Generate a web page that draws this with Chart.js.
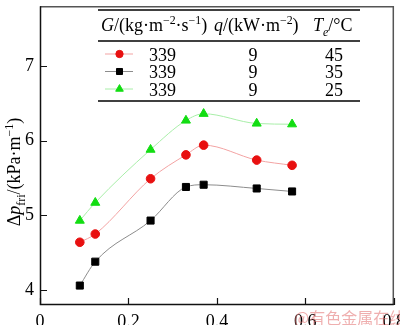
<!DOCTYPE html>
<html>
<head>
<meta charset="utf-8">
<script src="https://cdn.jsdelivr.net/npm/chart.js@4"></script>
<style>
html,body{margin:0;padding:0;background:#fff;}
</style>
</head>
<body>
<canvas id="c" width="400" height="325"></canvas>
<script>
// ---- data ----
const xValues = [0.09, 0.125, 0.25, 0.33, 0.37, 0.49, 0.57];
const dp45 = [4.64, 4.75, 5.49, 5.81, 5.94, 5.74, 5.67];
const dp35 = [4.06, 4.38, 4.93, 5.38, 5.41, 5.36, 5.32];
const dp25 = [4.93, 5.17, 5.88, 6.27, 6.36, 6.23, 6.22];
const legendG = ['339', '339', '339'];
const legendQ = ['9', '9', '9'];
const legendTe = ['45', '35', '25'];
const xTickValues = [0, 0.2, 0.4, 0.6, 0.8];
const xTickLabels = ['0', '0.2', '0.4', '0.6', '0.8'];
const yTickValues = [4, 5, 6, 7];
const yTickLabels = ['4', '5', '6', '7'];

const SERIF = 'Liberation Serif';

function pts(ys) { return xValues.map((x, i) => ({x: x, y: ys[i]})); }

const datasets = [
  {label: '45', data: pts(dp45), borderColor: '#f3a3a3', backgroundColor: '#e81010',
   pointBorderColor: '#e81010', pointStyle: 'circle', pointRadius: 4.3, borderWidth: 1},
  {label: '35', data: pts(dp35), borderColor: '#8c8c8c', backgroundColor: '#000',
   pointBorderColor: '#000', pointStyle: 'rect', pointRadius: 5, borderWidth: 1},
  {label: '25', data: pts(dp25), borderColor: '#a8eea8', backgroundColor: '#12dd12',
   pointBorderColor: '#12dd12', pointStyle: 'triangle', pointRadius: 5.2, borderWidth: 1}
];
datasets.forEach(d => { d.cubicInterpolationMode = 'monotone'; d.fill = false; d.pointBorderWidth = 1; });

function richText(ctx, segs, x, y, size, align) {
  const parts = segs.map(s => {
    const sz = (s.sub || s.sup) ? size * 0.66 : size;
    const font = (s.it ? 'italic ' : '') + sz + 'px "' + SERIF + '", serif';
    ctx.font = font;
    return {t: s.t, font: font, w: ctx.measureText(s.t).width,
      dy: s.sub ? size * 0.25 : (s.sup ? -size * 0.4 : 0)};
  });
  const total = parts.reduce((a, p) => a + p.w, 0);
  let cx = x;
  if (align === 'center') cx = x - total / 2;
  ctx.textBaseline = 'alphabetic';
  ctx.textAlign = 'left';
  parts.forEach(p => { ctx.font = p.font; ctx.fillText(p.t, cx, y + p.dy); cx += p.w; });
  return total;
}

const decor = {
  id: 'decor',
  afterDatasetsDraw(chart) {
    const ctx = chart.ctx, a = chart.chartArea;
    const xs = chart.scales.x, ys = chart.scales.y;
    ctx.save();
    // frame
    ctx.strokeStyle = '#555'; ctx.lineWidth = 1.5;
    ctx.beginPath();
    ctx.moveTo(a.left, a.top + 0.5); ctx.lineTo(a.right - 0.5, a.top + 0.5); ctx.lineTo(a.right - 0.5, a.bottom);
    ctx.stroke();
    ctx.strokeStyle = '#111'; ctx.lineWidth = 1.5;
    ctx.beginPath();
    ctx.moveTo(a.left + 0.5, a.top); ctx.lineTo(a.left + 0.5, a.bottom - 0.5); ctx.lineTo(a.right, a.bottom - 0.5);
    ctx.stroke();
    // inward ticks
    ctx.lineWidth = 1.2; ctx.strokeStyle = '#111';
    ctx.beginPath();
    xs.ticks.forEach(t => { const px = Math.round(xs.getPixelForValue(t.value)) + 0.5; ctx.moveTo(px, a.bottom); ctx.lineTo(px, a.bottom - 7); });
    ys.ticks.forEach(t => { const py = Math.round(ys.getPixelForValue(t.value)) + 0.5; ctx.moveTo(a.left, py); ctx.lineTo(a.left + 7, py); });
    ctx.stroke();

    // legend table
    ctx.fillStyle = '#000';
    ctx.strokeStyle = '#000'; ctx.lineWidth = 1.6;
    const L = 98, R = 360;
    [10, 41, 101].forEach(yy => { ctx.beginPath(); ctx.moveTo(L, yy); ctx.lineTo(R, yy); ctx.stroke(); });
    const fs = 18;
    richText(ctx, [{t: 'G', it: true}, {t: '/(kg·m'}, {t: '−2', sup: true}, {t: '·s'}, {t: '−1', sup: true}, {t: ')'}], 101, 31, fs);
    richText(ctx, [{t: 'q', it: true}, {t: '/(kW·m'}, {t: '−2', sup: true}, {t: ')'}], 214, 31, fs);
    richText(ctx, [{t: 'T', it: true}, {t: 'e', it: true, sub: true}, {t: '/°C'}], 313, 31, fs);
    const rowsY = [54, 71.5, 89];
    chart.data.datasets.forEach((d, i) => {
      const yy = rowsY[i];
      ctx.strokeStyle = d.borderColor; ctx.lineWidth = 1;
      ctx.beginPath(); ctx.moveTo(105, yy); ctx.lineTo(133, yy); ctx.stroke();
      ctx.fillStyle = d.backgroundColor; ctx.strokeStyle = d.pointBorderColor;
      Chart.helpers.drawPoint(ctx, {pointStyle: d.pointStyle, radius: d.pointRadius * 0.85, borderWidth: 1, rotation: 0}, 119.5, yy);
      ctx.fillStyle = '#000';
      richText(ctx, [{t: legendG[i]}], 149, yy + 6.5, fs);
      richText(ctx, [{t: legendQ[i]}], 253, yy + 6.5, fs, 'center');
      richText(ctx, [{t: legendTe[i]}], 334, yy + 6.5, fs, 'center');
    });

    // y axis title
    ctx.save();
    ctx.translate(14, 172);
    ctx.rotate(-Math.PI / 2);
    ctx.fillStyle = '#000';
    richText(ctx, [{t: 'Δ'}, {t: 'p', it: true}, {t: 'fri', sub: true}, {t: '/(kPa·m'}, {t: '−1', sup: true}, {t: ')'}], 0, 6, 18, 'center');
    ctx.restore();

    // watermark
    ctx.fillStyle = 'rgba(225,110,110,0.55)';
    ctx.font = '16px "Noto Sans CJK SC", sans-serif';
    ctx.textBaseline = 'middle'; ctx.textAlign = 'left';
    ctx.fillText('@有色金属在线', 294, 318);
    ctx.restore();
  }
};

new Chart(document.getElementById('c'), {
  type: 'line',
  data: {datasets: datasets},
  options: {
    responsive: false,
    animation: false,
    devicePixelRatio: 1,
    layout: {padding: {top: 1, right: 6, left: 0, bottom: 0}},
    plugins: {legend: {display: false}, tooltip: {enabled: false}},
    scales: {
      x: {
        type: 'linear', min: 0, max: 0.8,
        grid: {display: false, drawTicks: false},
        border: {display: false},
        ticks: {color: '#000', padding: 6, maxRotation: 0,
          font: {family: SERIF, size: 18},
          callback: (v, i) => xTickLabels[i]},
        afterBuildTicks: s => { s.ticks = xTickValues.map(v => ({value: v})); },
        afterFit: s => { s.height = 20; s.paddingLeft = 0; s.paddingRight = 0; }
      },
      y: {
        type: 'linear', min: 3.8, max: 7.8,
        grid: {display: false, drawTicks: false},
        border: {display: false},
        ticks: {color: '#000', padding: 6,
          font: {family: SERIF, size: 18},
          callback: (v, i) => yTickLabels[i]},
        afterBuildTicks: s => { s.ticks = yTickValues.map(v => ({value: v})); },
        afterFit: s => { s.width = 40; s.paddingTop = 0; s.paddingBottom = 0; }
      }
    }
  },
  plugins: [decor]
});
</script>
</body>
</html>
